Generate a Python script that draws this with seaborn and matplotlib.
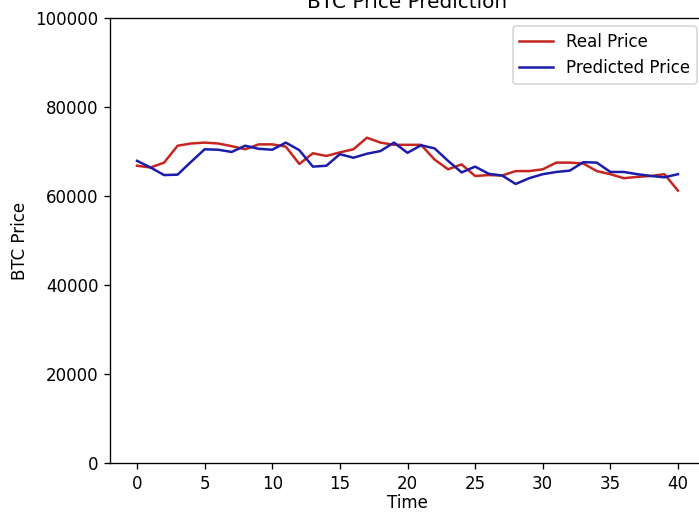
import numpy as np
import pandas as pd
import matplotlib
matplotlib.use("Agg")
import matplotlib.pyplot as plt
import seaborn as sbr

# values (in thousands of USD)
time_steps = list(range(41))
real_price = [66.8, 66.4, 67.5, 71.3, 71.8, 72.0, 71.8, 71.2, 70.5, 71.6,
              71.6, 71.1, 67.2, 69.6, 69.0, 69.8, 70.5, 73.1, 72.0, 71.5,
              71.5, 71.5, 68.2, 66.0, 67.1, 64.5, 64.7, 64.6, 65.6, 65.6,
              66.0, 67.5, 67.5, 67.3, 65.6, 64.9, 64.0, 64.3, 64.5, 64.9,
              61.2]
predicted_price = [67.9, 66.4, 64.7, 64.8, 67.7, 70.5, 70.4, 69.9, 71.3, 70.6,
                   70.4, 72.0, 70.3, 66.6, 66.8, 69.4, 68.6, 69.5, 70.1, 72.0,
                   69.7, 71.4, 70.7, 67.9, 65.3, 66.6, 65.0, 64.6, 62.7, 64.0,
                   64.9, 65.4, 65.7, 67.6, 67.5, 65.4, 65.4, 64.9, 64.5, 64.2,
                   64.9]

df = pd.DataFrame({
    "Time": time_steps,
    "Real Price": np.array(real_price) * 1000,
    "Predicted Price": np.array(predicted_price) * 1000,
})

fig = plt.figure(figsize=(699 / 120, 513 / 120), dpi=120)
# the reference is a cropped screenshot, so the axes run past the right edge
ax = fig.add_axes([110 / 699, 50 / 513, 595 / 699, 445 / 513])

sbr.lineplot(data=df, x="Time", y="Real Price", color="#c62620", label="Real Price", ax=ax)
sbr.lineplot(data=df, x="Time", y="Predicted Price", color="#1c1caa", label="Predicted Price", ax=ax)

ax.set_ylim(0, 100000)
ax.set_title("BTC Price Prediction")
ax.set_xlabel("Time", labelpad=1)
ax.set_ylabel("BTC Price")
ax.legend(loc="upper right")

fig.savefig("out.png", dpi=120)
plt.close()
